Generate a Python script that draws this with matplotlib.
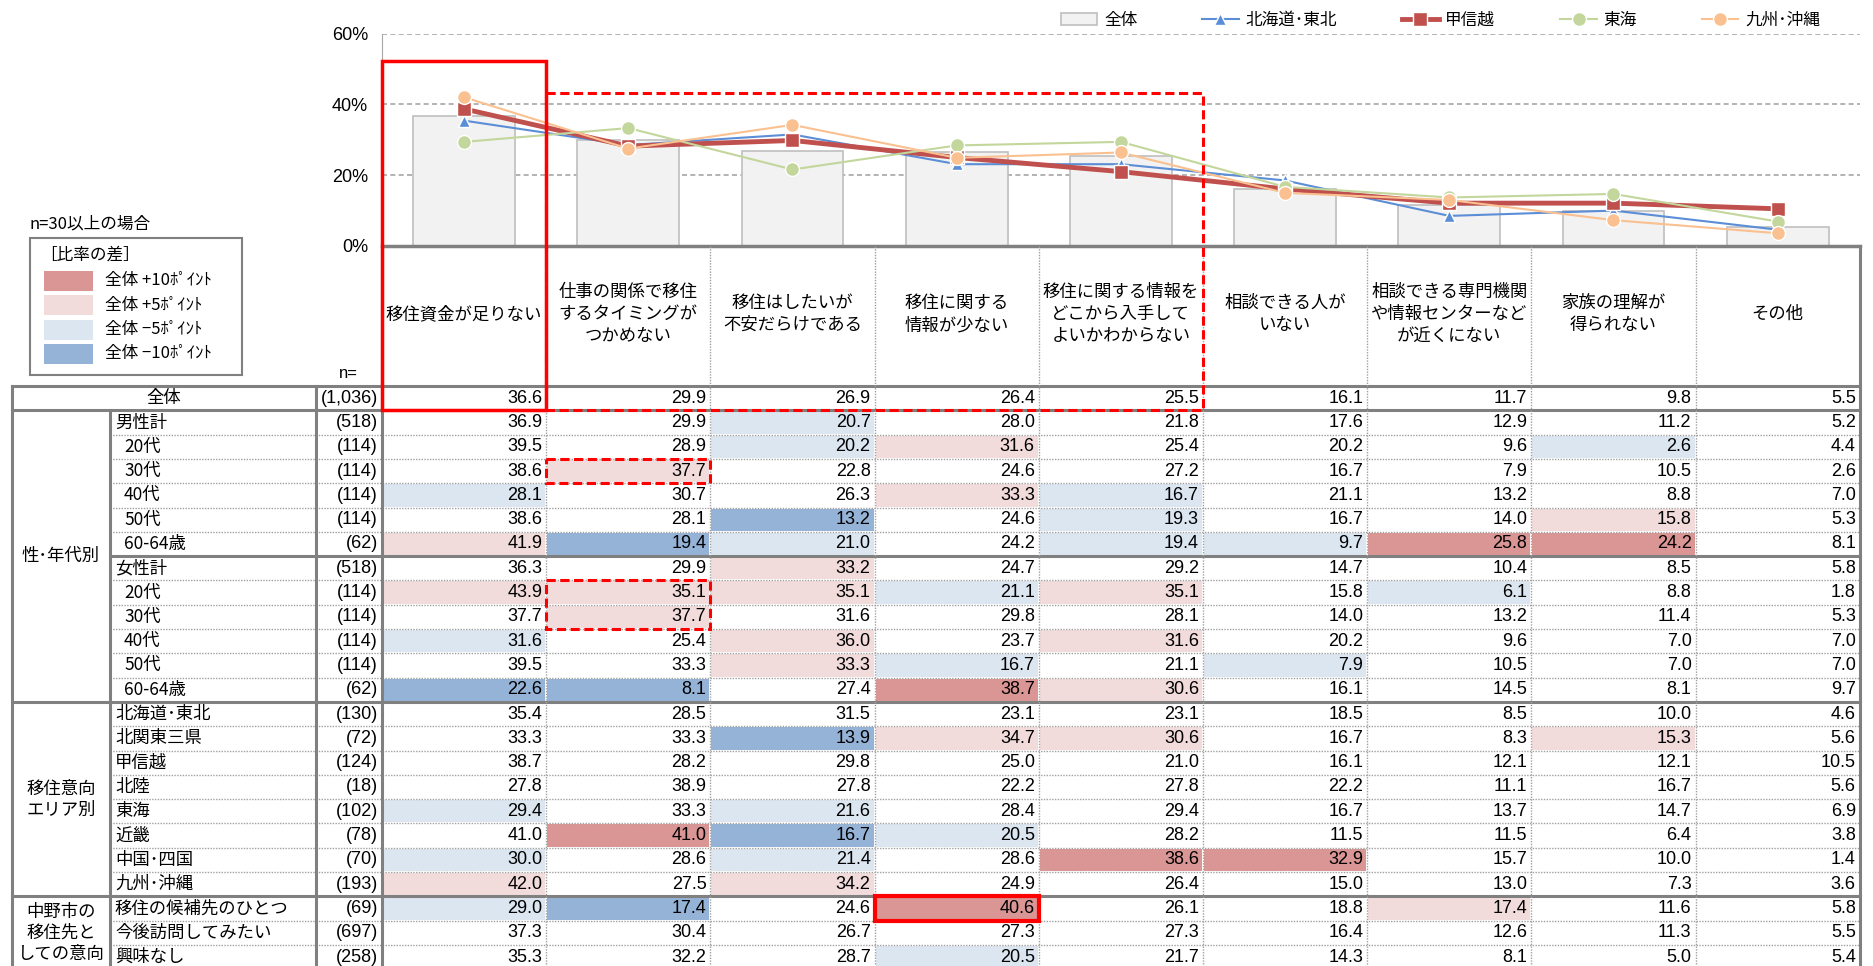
import numpy as np
import matplotlib
matplotlib.use('Agg')
import matplotlib.pyplot as plt
from matplotlib import font_manager
from matplotlib.patches import Rectangle

# fonts: narrow latin for numbers, Noto CJK for Japanese text
available = {f.name for f in font_manager.fontManager.ttflist}
narrow = 'Liberation Sans Narrow' if 'Liberation Sans Narrow' in available else 'Liberation Sans'
NUM_FONT = [narrow, 'Noto Sans CJK JP']
JP_FONT = ['Noto Sans CJK JP', 'DejaVu Sans']
plt.rcParams['font.family'] = JP_FONT

# column headers (reasons)
categories = ['移住資金が足りない', '仕事の関係で移住\nするタイミングが\nつかめない',
              '移住はしたいが\n不安だらけである', '移住に関する\n情報が少ない',
              '移住に関する情報を\nどこから入手して\nよいかわからない', '相談できる人が\nいない',
              '相談できる専門機関\nや情報センターなど\nが近くにない', '家族の理解が\n得られない', 'その他']

# table values (%)
zentai = [36.6, 29.9, 26.9, 26.4, 25.5, 16.1, 11.7, 9.8, 5.5]
male_total = [36.9, 29.9, 20.7, 28.0, 21.8, 17.6, 12.9, 11.2, 5.2]
male_20 = [39.5, 28.9, 20.2, 31.6, 25.4, 20.2, 9.6, 2.6, 4.4]
male_30 = [38.6, 37.7, 22.8, 24.6, 27.2, 16.7, 7.9, 10.5, 2.6]
male_40 = [28.1, 30.7, 26.3, 33.3, 16.7, 21.1, 13.2, 8.8, 7.0]
male_50 = [38.6, 28.1, 13.2, 24.6, 19.3, 16.7, 14.0, 15.8, 5.3]
male_60 = [41.9, 19.4, 21.0, 24.2, 19.4, 9.7, 25.8, 24.2, 8.1]
female_total = [36.3, 29.9, 33.2, 24.7, 29.2, 14.7, 10.4, 8.5, 5.8]
female_20 = [43.9, 35.1, 35.1, 21.1, 35.1, 15.8, 6.1, 8.8, 1.8]
female_30 = [37.7, 37.7, 31.6, 29.8, 28.1, 14.0, 13.2, 11.4, 5.3]
female_40 = [31.6, 25.4, 36.0, 23.7, 31.6, 20.2, 9.6, 7.0, 7.0]
female_50 = [39.5, 33.3, 33.3, 16.7, 21.1, 7.9, 10.5, 7.0, 7.0]
female_60 = [22.6, 8.1, 27.4, 38.7, 30.6, 16.1, 14.5, 8.1, 9.7]
area_hokkaido_tohoku = [35.4, 28.5, 31.5, 23.1, 23.1, 18.5, 8.5, 10.0, 4.6]
area_kitakanto = [33.3, 33.3, 13.9, 34.7, 30.6, 16.7, 8.3, 15.3, 5.6]
area_koshinetsu = [38.7, 28.2, 29.8, 25.0, 21.0, 16.1, 12.1, 12.1, 10.5]
area_hokuriku = [27.8, 38.9, 27.8, 22.2, 27.8, 22.2, 11.1, 16.7, 5.6]
area_tokai = [29.4, 33.3, 21.6, 28.4, 29.4, 16.7, 13.7, 14.7, 6.9]
area_kinki = [41.0, 41.0, 16.7, 20.5, 28.2, 11.5, 11.5, 6.4, 3.8]
area_chugoku_shikoku = [30.0, 28.6, 21.4, 28.6, 38.6, 32.9, 15.7, 10.0, 1.4]
area_kyushu_okinawa = [42.0, 27.5, 34.2, 24.9, 26.4, 15.0, 13.0, 7.3, 3.6]
nakano_candidate = [29.0, 17.4, 24.6, 40.6, 26.1, 18.8, 17.4, 11.6, 5.8]
nakano_visit = [37.3, 30.4, 26.7, 27.3, 27.3, 16.4, 12.6, 11.3, 5.5]
nakano_none = [35.3, 32.2, 28.7, 20.5, 21.7, 14.3, 8.1, 5.0, 5.4]

# row label, n, values, indented
rows = [
    ('全体', 1036, zentai, False),
    ('男性計', 518, male_total, False),
    ('20代', 114, male_20, True),
    ('30代', 114, male_30, True),
    ('40代', 114, male_40, True),
    ('50代', 114, male_50, True),
    ('60-64歳', 62, male_60, True),
    ('女性計', 518, female_total, False),
    ('20代', 114, female_20, True),
    ('30代', 114, female_30, True),
    ('40代', 114, female_40, True),
    ('50代', 114, female_50, True),
    ('60-64歳', 62, female_60, True),
    ('北海道･東北', 130, area_hokkaido_tohoku, False),
    ('北関東三県', 72, area_kitakanto, False),
    ('甲信越', 124, area_koshinetsu, False),
    ('北陸', 18, area_hokuriku, False),
    ('東海', 102, area_tokai, False),
    ('近畿', 78, area_kinki, False),
    ('中国･四国', 70, area_chugoku_shikoku, False),
    ('九州･沖縄', 193, area_kyushu_okinawa, False),
    ('移住の候補先のひとつ', 69, nakano_candidate, False),
    ('今後訪問してみたい', 697, nakano_visit, False),
    ('興味なし', 258, nakano_none, False),
]
groups = [('性･年代別', 1, 12), ('移住意向\nエリア別', 13, 20), ('中野市の\n移住先と\nしての意向', 21, 23)]

# chart series
series = [
    ('北海道･東北', area_hokkaido_tohoku, '#5b8ed6', 1.5, '^', 8),
    ('甲信越', area_koshinetsu, '#c0504d', 3.5, 's', 10),
    ('東海', area_tokai, '#c3d69b', 1.5, 'o', 10),
    ('九州･沖縄', area_kyushu_okinawa, '#fac090', 1.5, 'o', 10),
]

shade_colors = ['#da9694', '#f2dcdb', '#dce6f1', '#95b3d7']
shade_labels = ['全体 +10ﾎﾟｲﾝﾄ', '全体 +5ﾎﾟｲﾝﾄ', '全体 −5ﾎﾟｲﾝﾄ', '全体 −10ﾎﾟｲﾝﾄ']


def shade(v, base, n):
    # only n>=30 rows are shaded; boundaries follow the picture
    if n < 30:
        return None
    d = round(v - base, 1)
    if d >= 10:
        return shade_colors[0]
    if d > 5:
        return shade_colors[1]
    if d <= -10:
        return shade_colors[3]
    if d <= -5:
        return shade_colors[2]
    return None


# layout in pixels
W, H = 1873, 966
HEADER_TOP = 246
TABLE_TOP = 386
ROW_H = 24.3
X_LEFT, X_GROUP, X_LABEL, X_N = 12, 110, 316, 382
COL_W = 164.2
ncol = len(categories)
X_RIGHT = X_N + ncol * COL_W
Y_BOTTOM = TABLE_TOP + len(rows) * ROW_H

fig = plt.figure(figsize=(W / 100, H / 100), dpi=100)

# ---- chart ----
ax = fig.add_axes([X_N / W, 1 - HEADER_TOP / H, ncol * COL_W / W, (HEADER_TOP - 33.5) / H])
x = np.arange(ncol)
bars = ax.bar(x, zentai, width=0.62, color='#f2f2f2', edgecolor='#bfbfbf', linewidth=1.2, label='全体', zorder=2)
handles = [bars]
for name, vals, col, lw, mk, ms in series:
    ln, = ax.plot(x, vals, color=col, lw=lw, marker=mk, ms=ms, mec='white', mew=1, label=name, zorder=3)
    handles.append(ln)
ax.set_xlim(-0.5, ncol - 0.5)
ax.set_ylim(0, 60)
ax.set_yticks([0, 20, 40, 60])
ax.set_yticklabels(['0%', '20%', '40%', '60%'], family=NUM_FONT, fontsize=13)
ax.set_xticks([])
ax.tick_params(axis='y', length=0, pad=10)
ax.yaxis.grid(True, linestyle=(0, (3, 2)), color='#a6a6a6', lw=1.2)
ax.set_axisbelow(True)
for s in ['top', 'right', 'bottom']:
    ax.spines[s].set_visible(False)
ax.spines['left'].set_color('#a6a6a6')
ax.patch.set_alpha(0)

ax.legend(handles, [h.get_label() for h in handles], loc='center right', bbox_to_anchor=(1820 / W, 1 - 20 / H),
          bbox_transform=fig.transFigure, ncol=5, frameon=False, prop={'family': JP_FONT, 'size': 12},
          handlelength=2.2, columnspacing=3.9, handletextpad=0.4, borderpad=0, borderaxespad=0)

# ---- table overlay ----
tab = fig.add_axes([0, 0, 1, 1])
tab.set_xlim(0, W)
tab.set_ylim(H, 0)
tab.axis('off')
tab.patch.set_alpha(0)
tab.set_zorder(3)

SOLID = '#808080'
DOT = '#a0a0a0'


def row_top(i):
    return TABLE_TOP + i * ROW_H


# header
for j, cat in enumerate(categories):
    tab.text(X_N + (j + 0.5) * COL_W, (HEADER_TOP + TABLE_TOP) / 2 - 2, cat, ha='center', va='center',
             fontsize=12.5, linespacing=1.3, family=JP_FONT)
tab.text(348, 374, 'n=', ha='center', va='center', fontsize=12, family=NUM_FONT)

# cells
for i, (label, n, vals, indent) in enumerate(rows):
    yc = row_top(i) + ROW_H / 2
    for j, v in enumerate(vals):
        c = shade(v, zentai[j], n) if i > 0 else None
        if c:
            tab.add_patch(Rectangle((X_N + j * COL_W + 1, row_top(i) + 1), COL_W - 2, ROW_H - 2,
                                    facecolor=c, edgecolor='none', zorder=1))
        tab.text(X_N + (j + 1) * COL_W - 4, yc, f'{v:.1f}', ha='right', va='center',
                 fontsize=13, family=NUM_FONT, zorder=4)
    tab.text(X_N - 4, yc, f'({n:,})', ha='right', va='center', fontsize=13, family=NUM_FONT, zorder=4)
    if i == 0:
        tab.text((X_LEFT + X_LABEL) / 2, yc, label, ha='center', va='center', fontsize=12.5, zorder=4)
    else:
        tab.text(X_GROUP + (14 if indent else 5), yc, label, ha='left', va='center', fontsize=12.5, zorder=4)

for g, r0, r1 in groups:
    tab.text((X_LEFT + X_GROUP) / 2, (row_top(r0) + row_top(r1 + 1)) / 2, g, ha='center', va='center',
             fontsize=12.5, linespacing=1.2, zorder=4)

# horizontal rules
group_starts = [g[1] for g in groups]
for i in range(len(rows) + 1):
    y = row_top(i)
    if i in (0, 1) or i in group_starts or i == len(rows):
        tab.plot([X_LEFT, X_RIGHT], [y, y], color=SOLID, lw=2.2, zorder=2)
    elif i == 7:
        tab.plot([X_GROUP, X_RIGHT], [y, y], color=SOLID, lw=2.2, zorder=2)
    else:
        tab.plot([X_GROUP, X_RIGHT], [y, y], color=DOT, lw=1, ls=(0, (1, 1)), zorder=2)
tab.plot([X_N, X_RIGHT], [HEADER_TOP, HEADER_TOP], color=SOLID, lw=2.5, zorder=2)

# vertical rules
tab.plot([X_LEFT, X_LEFT], [TABLE_TOP, Y_BOTTOM], color=SOLID, lw=2.2, zorder=2)
tab.plot([X_GROUP, X_GROUP], [row_top(1), Y_BOTTOM], color=SOLID, lw=2.2, zorder=2)
tab.plot([X_LABEL, X_LABEL], [TABLE_TOP, Y_BOTTOM], color=SOLID, lw=2.2, zorder=2)
tab.plot([X_N, X_N], [HEADER_TOP, Y_BOTTOM], color=SOLID, lw=2.2, zorder=2)
tab.plot([X_RIGHT, X_RIGHT], [HEADER_TOP, Y_BOTTOM], color=SOLID, lw=2.2, zorder=2)
for j in range(1, ncol):
    xx = X_N + j * COL_W
    tab.plot([xx, xx], [HEADER_TOP, Y_BOTTOM], color=DOT, lw=1, ls=(0, (1, 1)), zorder=2)

# red highlight boxes
RED = '#ff0000'
tab.add_patch(Rectangle((X_N, 61), COL_W, row_top(1) - 61, fill=False, edgecolor=RED, lw=2.5, zorder=5))
tab.add_patch(Rectangle((X_N + COL_W, 93), 4 * COL_W, row_top(1) - 93, fill=False, edgecolor=RED,
                        lw=2.2, ls=(0, (3, 1.5)), zorder=5))
tab.add_patch(Rectangle((X_N + COL_W, row_top(3)), COL_W, ROW_H, fill=False, edgecolor=RED,
                        lw=2.2, ls=(0, (3, 1.5)), zorder=5))
tab.add_patch(Rectangle((X_N + COL_W, row_top(8)), COL_W, 2 * ROW_H, fill=False, edgecolor=RED,
                        lw=2.2, ls=(0, (3, 1.5)), zorder=5))
tab.add_patch(Rectangle((X_N + 3 * COL_W, row_top(21)), COL_W, ROW_H, fill=False, edgecolor=RED,
                        lw=3, zorder=5))

# shading legend
tab.text(30, 224, 'n=30以上の場合', ha='left', va='center', fontsize=12)
tab.add_patch(Rectangle((30, 238), 212, 137, fill=False, edgecolor=SOLID, lw=1.5, zorder=2))
tab.text(40, 255, '［比率の差］', ha='left', va='center', fontsize=12)
for k, (c, lab) in enumerate(zip(shade_colors, shade_labels)):
    yc = 281 + k * 24.3
    tab.add_patch(Rectangle((44, yc - 10), 49, 20, facecolor=c, edgecolor='none'))
    tab.text(105, yc, lab, ha='left', va='center', fontsize=12)

fig.savefig('out.png', dpi=100)
